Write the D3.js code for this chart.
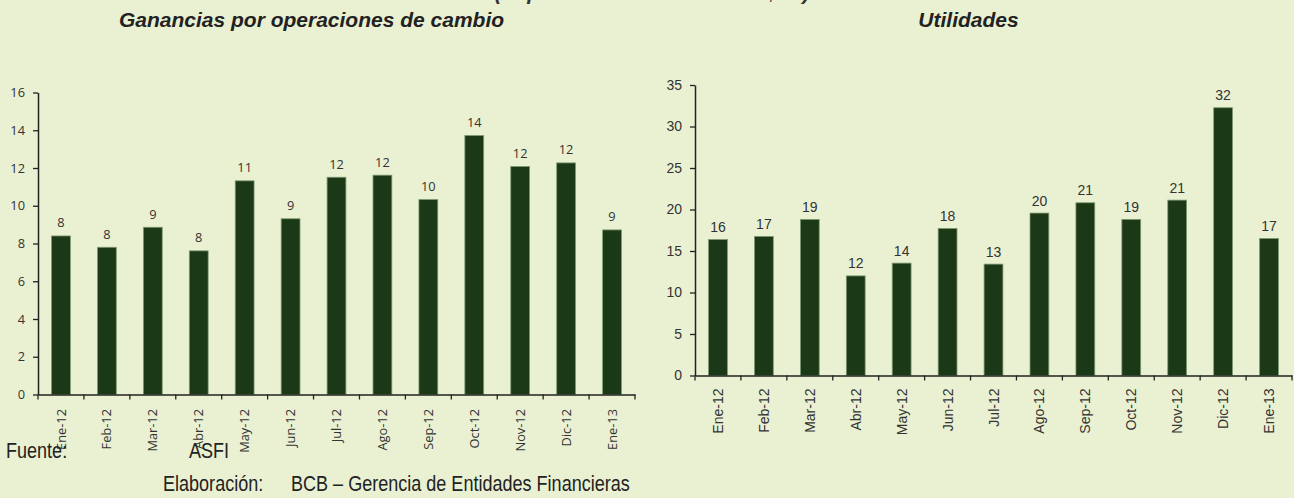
<!DOCTYPE html>
<html><head><meta charset="utf-8">
<script src="https://cdn.jsdelivr.net/npm/d3@7"></script>
<style>
html,body{margin:0;padding:0;background:#EAF1D2;}
svg{display:block;}
</style></head>
<body>
<svg id="c" width="1294" height="498"></svg>
<script>
const categories = ["Ene-12","Feb-12","Mar-12","Abr-12","May-12","Jun-12","Jul-12","Ago-12","Sep-12","Oct-12","Nov-12","Dic-12","Ene-13"];
const ganancias = [8.40,7.80,8.86,7.61,11.32,9.31,11.51,11.62,10.33,13.72,12.08,12.27,8.72];
const utilidades = [16.39,16.76,18.81,12.00,13.54,17.72,13.42,19.57,20.81,18.81,21.13,32.26,16.51];
const ticksLeft = [0,2,4,6,8,10,12,14,16];
const ticksRight = [0,5,10,15,20,25,30,35];

const svg = d3.select("#c");
svg.append("rect").attr("width",1294).attr("height",498).attr("fill","#EAF1D2");

const sans = "'Liberation Sans',Arial,sans-serif";

function title(txt,cx,y,fill){
  svg.append("text").attr("x",cx).attr("y",y).attr("text-anchor","middle")
    .attr("font-family",sans).attr("font-weight","bold").attr("font-style","italic")
    .attr("font-size",21).attr("fill",fill).text(txt);
}
title("(Expresado en millones de $us)",652,-0.5,"#333");
title("Ganancias por operaciones de cambio",311.5,27,"#222");
title("Utilidades",968.5,27,"#222");

function chart(cfg){
  const g = svg.append("g");
  const x = d3.scaleBand().domain(categories).range([cfg.x0,cfg.x1]).paddingInner(0.59).paddingOuter(0.295);
  const xb = d3.scaleBand().domain(categories).range([cfg.x0,cfg.x1]);
  const y = d3.scaleLinear().domain([0,cfg.max]).range([cfg.y0,cfg.y1]);
  g.selectAll("rect.bar").data(cfg.values).join("rect").attr("class","bar")
    .attr("x",(d,i)=>x(categories[i])).attr("width",x.bandwidth())
    .attr("y",d=>y(d)).attr("height",d=>y(0)-y(d))
    .attr("fill","#1B3817").attr("stroke","#7E9A72").attr("stroke-width",0.8);
  g.selectAll("text.lab").data(cfg.values).join("text").attr("class","lab")
    .attr("x",(d,i)=>x(categories[i])+x.bandwidth()/2).attr("y",d=>y(d)-cfg.lgap)
    .attr("text-anchor","middle").attr("font-family",cfg.font).attr("font-size",cfg.fs)
    .attr("fill","#333").text(d=>Math.round(d));
  const ya = g.append("g").attr("transform",`translate(${cfg.x0},0)`)
    .call(d3.axisLeft(y).tickValues(cfg.ticks).tickSize(5).tickPadding(8).tickSizeOuter(0));
  ya.select(".domain").attr("stroke","#222").attr("stroke-width",1.5);
  ya.selectAll(".tick line").attr("stroke","#222").attr("stroke-width",1.3);
  ya.selectAll(".tick text").attr("font-family",cfg.font).attr("font-size",cfg.fs).attr("fill","#333");
  const xa = g.append("g").attr("transform",`translate(0,${cfg.y0})`)
    .call(d3.axisBottom(xb).tickSize(0).tickSizeOuter(0).tickFormat(""));
  xa.select(".domain").attr("stroke","#222").attr("stroke-width",1.5);
  const bounds = categories.map(c=>xb(c)).concat([cfg.x1]);
  g.selectAll("line.xt").data(bounds).join("line").attr("class","xt")
    .attr("x1",d=>d).attr("x2",d=>d).attr("y1",cfg.y0).attr("y2",cfg.y0+5)
    .attr("stroke","#222").attr("stroke-width",1.3);
  g.selectAll("text.cat").data(categories).join("text").attr("class","cat")
    .attr("transform",d=>`translate(${xb(d)+xb.bandwidth()/2+cfg.fs*0.36},${cfg.y0+cfg.lab}) rotate(-90)`)
    .attr("text-anchor","end").attr("font-family",cfg.font).attr("font-size",cfg.fs)
    .attr("fill","#333").text(d=>d);
}

chart({values:ganancias,max:16,ticks:ticksLeft,x0:38,x1:635,y0:394.5,y1:92.5,font:"'Open Sans','Noto Sans',sans-serif",fs:12.8,lab:14.5,lgap:8.5});
chart({values:utilidades,max:35,ticks:ticksRight,x0:695,x1:1292,y0:375.5,y1:85,font:sans,fs:14,lab:13,lgap:7.5});

const foot = svg.append("g").attr("font-family",sans).attr("font-size",22).attr("fill","#222");
function ft(txt,x,y){ foot.append("text").attr("transform",`translate(${x},${y}) scale(0.82,1)`).text(txt); }
ft("Fuente:",6,458);
ft("ASFI",189,458);
ft("Elaboración:",163,491);
ft("BCB – Gerencia de Entidades Financieras",291,491);
</script>
</body></html>
